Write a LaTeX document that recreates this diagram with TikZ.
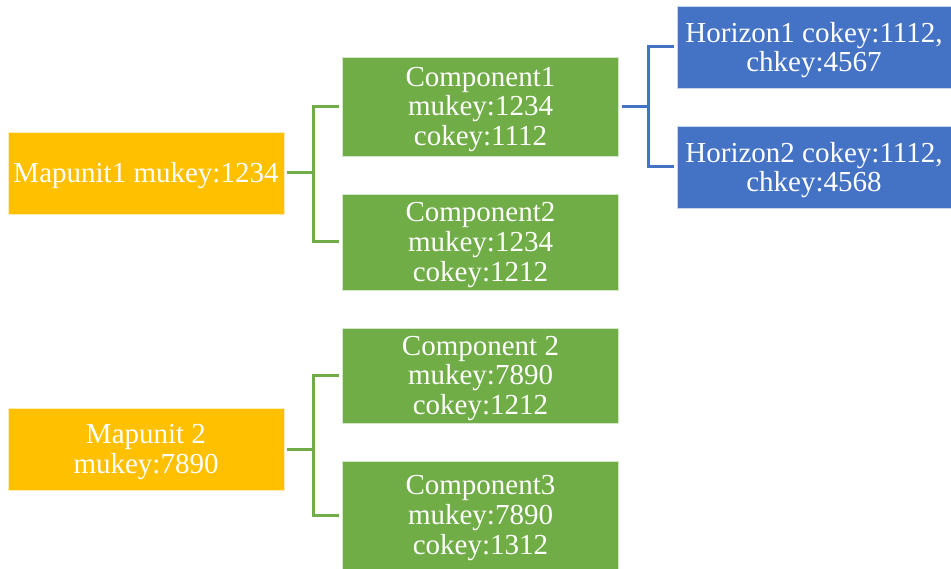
\documentclass[tikz,border=0pt]{standalone}
\usepackage{fontspec}
\setmainfont{Liberation Serif}
\definecolor{orng}{HTML}{FFC000}
\definecolor{grn}{HTML}{70AD47}
\definecolor{blu}{HTML}{4472C4}
\begin{document}
\begin{tikzpicture}[x=1pt,y=-1pt,
  box/.style={rectangle, draw=white!70!#1, line width=0.6pt, fill=#1, inner sep=0pt},
  mbox/.style={box=orng, minimum width=276, minimum height=82},
  cbox/.style={box=grn, minimum width=276},
  hbox/.style={box=blu, minimum width=274, minimum height=82},
  txt/.style={text=white, align=center, inner sep=0pt, font=\fontsize{29}{29.6}\selectfont},
  conn/.style={line width=3pt},
]
\useasboundingbox (0,0) rectangle (951,569);
\fill[white] (0,0) rectangle (951,569);
% mapunits
\node[mbox] (m1) at (146,173) {};
\node[txt] (m1t) at ([yshift=-3]m1.center) {Mapunit1 mukey:1234};
\node[mbox] (m2) at (146,449) {};
\node[txt] (m2t) at ([yshift=-3]m2.center) {Mapunit 2\\mukey:7890};
% components
\node[cbox, minimum height=99] (c1) at (480.5,106.5) {};
\node[txt] (c1t) at ([yshift=-3]c1.center) {Component1\\mukey:1234\\cokey:1112};
\node[cbox, minimum height=96] (c2) at (480.5,242) {};
\node[txt] (c2t) at ([yshift=-3]c2.center) {Component2\\mukey:1234\\cokey:1212};
\node[cbox, minimum height=95] (c3) at (480.5,375.5) {};
\node[txt] (c3t) at ([yshift=-3]c3.center) {Component 2\\mukey:7890\\cokey:1212};
\node[cbox, minimum height=108] (c4) at (480.5,515) {};
\node[txt] (c4t) at ([yshift=-3]c4.center) {Component3\\mukey:7890\\cokey:1312};
% horizons
\node[hbox] (h1) at (814,47) {};
\node[txt] (h1t) at ([yshift=-3]h1.center) {Horizon1 cokey:1112,\\chkey:4567};
\node[hbox] (h2) at (814,167) {};
\node[txt] (h2t) at ([yshift=-3]h2.center) {Horizon2 cokey:1112,\\chkey:4568};
% junctions
\coordinate (j1) at (313,173);
\coordinate (j2) at (313,449);
\coordinate (j3) at (648,106.5);
% connectors
\draw[conn, grn, shorten <=3pt] (m1.east) -- (j1);
\draw[conn, grn, shorten >=3pt] (j1) |- (c1.west);
\draw[conn, grn, shorten >=3pt] (j1) |- (c2.west);
\draw[conn, grn, shorten <=3pt] (m2.east) -- (j2);
\draw[conn, grn, shorten >=3pt] (j2) |- (c3.west);
\draw[conn, grn, shorten >=3pt] (j2) |- (c4.west);
\draw[conn, blu, shorten <=3pt] (c1.east) -- (j3);
\draw[conn, blu, shorten >=3pt] (j3) |- (h1.west);
\draw[conn, blu, shorten >=3pt] (j3) |- (h2.west);
\end{tikzpicture}
\end{document}
